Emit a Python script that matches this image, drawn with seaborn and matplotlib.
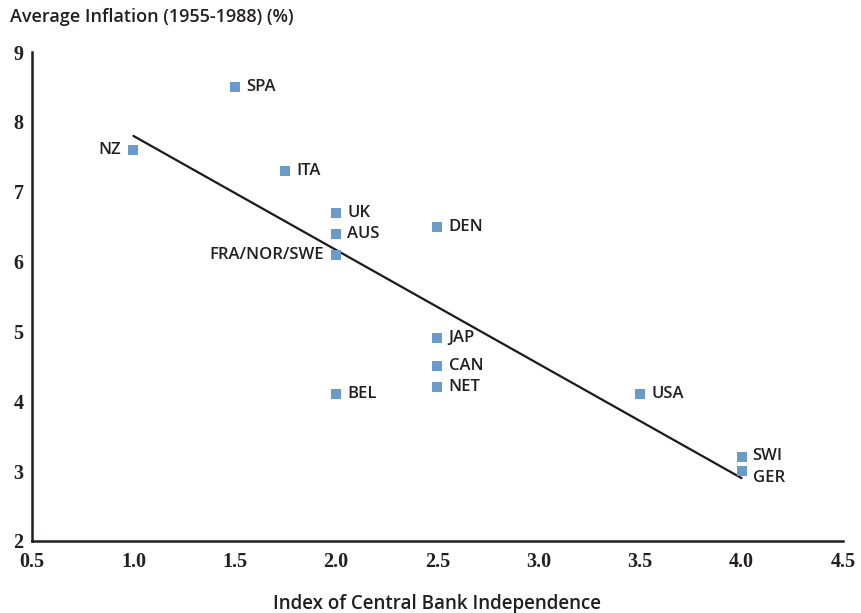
import matplotlib
matplotlib.use("Agg")
import matplotlib.pyplot as plt
import seaborn as sns
import pandas as pd

countries = ["NZ", "SPA", "ITA", "UK", "AUS", "FRA/NOR/SWE", "DEN", "JAP", "CAN", "NET", "BEL", "USA", "SWI", "GER"]
independence = [1.0, 1.5, 1.75, 2.0, 2.0, 2.0, 2.5, 2.5, 2.5, 2.5, 2.0, 3.5, 4.0, 4.0]
inflation = [7.6, 8.5, 7.3, 6.7, 6.4, 6.1, 6.5, 4.9, 4.5, 4.2, 4.1, 4.1, 3.2, 3.0]

fit_x = [1.0, 4.0]
fit_y = [7.8, 2.9]

x_ticks = [0.5, 1.0, 1.5, 2.0, 2.5, 3.0, 3.5, 4.0, 4.5]
y_ticks = [2, 3, 4, 5, 6, 7, 8, 9]

# label placement (layout only)
label_left = {"NZ", "FRA/NOR/SWE"}
label_dy = {"SWI": 1, "GER": -5}

df = pd.DataFrame({"country": countries, "x": independence, "y": inflation})
fit = pd.DataFrame({"x": fit_x, "y": fit_y})

sns.set_theme(style="white")
plt.rcParams["font.family"] = ["Open Sans", "DejaVu Sans"]

fig = plt.figure(figsize=(8.61, 6.13), dpi=100)
ax = fig.add_axes([0.0372, 0.1175, 0.9418, 0.7975])

sns.lineplot(data=fit, x="x", y="y", ax=ax, color="#1a1a1a", linewidth=1.6)
sns.scatterplot(data=df, x="x", y="y", ax=ax, marker="s", s=52, color="#6a9bcb",
                edgecolor="none", linewidth=0, zorder=3)

for _, r in df.iterrows():
    dy = label_dy.get(r["country"], 0)
    if r["country"] in label_left:
        ax.annotate(r["country"], (r["x"], r["y"]), xytext=(-9, dy), textcoords="offset points",
                    ha="right", va="center", fontsize=12, fontweight="semibold", color="#231f20")
    else:
        ax.annotate(r["country"], (r["x"], r["y"]), xytext=(8, dy), textcoords="offset points",
                    ha="left", va="center", fontsize=12, fontweight="semibold", color="#231f20")

ax.set_xlim(0.5, 4.5)
ax.set_ylim(2, 9)
ax.set_xticks(x_ticks)
ax.set_xticklabels([f"{v:.1f}" for v in x_ticks])
ax.set_yticks(y_ticks)
ax.set_yticklabels([str(v) for v in y_ticks])

for s in ["top", "right"]:
    ax.spines[s].set_visible(False)
for s in ["left", "bottom"]:
    ax.spines[s].set_color("#231f20")
    ax.spines[s].set_linewidth(1.8)

ax.tick_params(axis="both", which="major", direction="out", length=4, width=1.8,
               color="#231f20", pad=2, labelcolor="#231f20")
ax.tick_params(axis="x", length=5, pad=3)
for lab in ax.get_xticklabels() + ax.get_yticklabels():
    lab.set_fontfamily(["Liberation Serif", "DejaVu Serif"])
    lab.set_fontweight("bold")
    lab.set_fontsize(14.5)

ax.set_xlabel("Index of Central Bank Independence", fontsize=13.5, fontweight="semibold",
              color="#231f20", labelpad=16)
ax.set_ylabel("")
fig.text(0.012, 0.972, "Average Inflation (1955-1988) (%)", fontsize=13, fontweight="semibold",
         color="#231f20", ha="left", va="center")

fig.savefig("out.png", dpi=100, facecolor="white")
